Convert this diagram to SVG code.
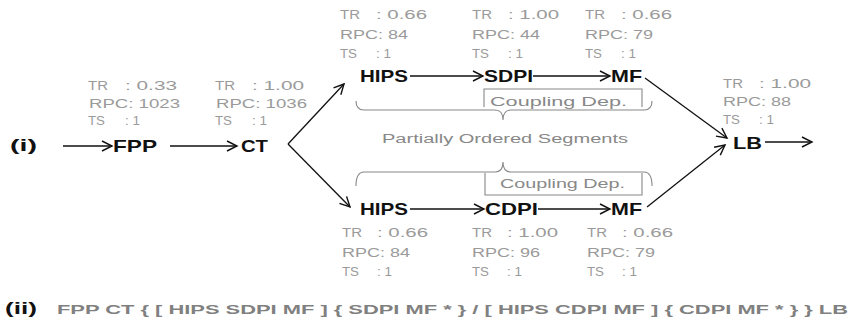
<svg xmlns="http://www.w3.org/2000/svg" width="850" height="327" viewBox="0 0 850 327">
<style>
.n{font-family:"Liberation Sans",Arial,sans-serif;font-weight:bold;font-size:17px;fill:#111}
.m{font-family:"Liberation Sans",Arial,sans-serif;font-size:12.5px;fill:#9a9a9a}
.g{font-family:"Liberation Sans",Arial,sans-serif;font-size:12px;fill:#888}
.b{font-family:"Liberation Sans",Arial,sans-serif;font-weight:bold;font-size:13px;fill:#808080}
.c{fill:none;stroke:#111;stroke-width:1.3}
.k{fill:none;stroke:#888;stroke-width:1.1}
</style>
<defs>
<marker id="a" markerUnits="userSpaceOnUse" markerWidth="14" markerHeight="14" refX="11" refY="6" orient="auto">
<path d="M1,1 L11,6 L1,11" fill="none" stroke="#111" stroke-width="1.4"/>
</marker>
</defs>
<rect width="850" height="327" fill="#fff"/>

<g id="connectors">
<line class="c" x1="63" y1="146" x2="112" y2="146" marker-end="url(#a)"/>
<line class="c" x1="170" y1="146" x2="237" y2="146" marker-end="url(#a)"/>
<line class="c" x1="288" y1="144" x2="344" y2="84" marker-end="url(#a)"/>
<line class="c" x1="288" y1="144" x2="350" y2="207" marker-end="url(#a)"/>
<line class="c" x1="410" y1="76" x2="483" y2="76" marker-end="url(#a)"/>
<line class="c" x1="533" y1="76" x2="610" y2="76" marker-end="url(#a)"/>
<line class="c" x1="645" y1="78" x2="727" y2="138" marker-end="url(#a)"/>
<line class="c" x1="410" y1="209" x2="484" y2="209" marker-end="url(#a)"/>
<line class="c" x1="538" y1="209" x2="610" y2="209" marker-end="url(#a)"/>
<line class="c" x1="647" y1="207" x2="725" y2="145" marker-end="url(#a)"/>
<line class="c" x1="765" y1="142" x2="812" y2="142" marker-end="url(#a)"/>
</g>

<g id="label-i"><text class="n" x="10" y="151" textLength="27" lengthAdjust="spacingAndGlyphs">(i)</text></g>

<g id="FPP">
<text class="n" x="113" y="152" textLength="44" lengthAdjust="spacingAndGlyphs">FPP</text>
<text class="m" x="88" y="90" textLength="20" lengthAdjust="spacingAndGlyphs">TR</text>
<text class="m" x="125" y="90" textLength="52" lengthAdjust="spacingAndGlyphs">: 0.33</text>
<text class="m" x="89" y="108" textLength="91" lengthAdjust="spacingAndGlyphs">RPC: 1023</text>
<text class="m" x="88" y="125" textLength="17" lengthAdjust="spacingAndGlyphs">TS</text>
<text class="m" x="125" y="125" textLength="15" lengthAdjust="spacingAndGlyphs">: 1</text>
</g>

<g id="CT">
<text class="n" x="241" y="152" textLength="27" lengthAdjust="spacingAndGlyphs">CT</text>
<text class="m" x="215" y="90" textLength="20" lengthAdjust="spacingAndGlyphs">TR</text>
<text class="m" x="252" y="90" textLength="52" lengthAdjust="spacingAndGlyphs">: 1.00</text>
<text class="m" x="216" y="108" textLength="91" lengthAdjust="spacingAndGlyphs">RPC: 1036</text>
<text class="m" x="215" y="125" textLength="17" lengthAdjust="spacingAndGlyphs">TS</text>
<text class="m" x="252" y="125" textLength="15" lengthAdjust="spacingAndGlyphs">: 1</text>
</g>

<g id="HIPS-upper">
<text class="n" x="360" y="82" textLength="48" lengthAdjust="spacingAndGlyphs">HIPS</text>
<text class="m" x="340" y="19" textLength="20" lengthAdjust="spacingAndGlyphs">TR</text>
<text class="m" x="376" y="19" textLength="51" lengthAdjust="spacingAndGlyphs">: 0.66</text>
<text class="m" x="340" y="39" textLength="68" lengthAdjust="spacingAndGlyphs">RPC: 84</text>
<text class="m" x="340" y="58" textLength="17" lengthAdjust="spacingAndGlyphs">TS</text>
<text class="m" x="376" y="58" textLength="15" lengthAdjust="spacingAndGlyphs">: 1</text>
</g>

<g id="SDPI">
<text class="n" x="484" y="82" textLength="49" lengthAdjust="spacingAndGlyphs">SDPI</text>
<text class="m" x="472" y="19" textLength="20" lengthAdjust="spacingAndGlyphs">TR</text>
<text class="m" x="508" y="19" textLength="51" lengthAdjust="spacingAndGlyphs">: 1.00</text>
<text class="m" x="472" y="39" textLength="68" lengthAdjust="spacingAndGlyphs">RPC: 44</text>
<text class="m" x="472" y="58" textLength="17" lengthAdjust="spacingAndGlyphs">TS</text>
<text class="m" x="508" y="58" textLength="15" lengthAdjust="spacingAndGlyphs">: 1</text>
</g>

<g id="MF-upper">
<text class="n" x="611" y="82" textLength="31" lengthAdjust="spacingAndGlyphs">MF</text>
<text class="m" x="585" y="19" textLength="20" lengthAdjust="spacingAndGlyphs">TR</text>
<text class="m" x="621" y="19" textLength="51" lengthAdjust="spacingAndGlyphs">: 0.66</text>
<text class="m" x="585" y="39" textLength="68" lengthAdjust="spacingAndGlyphs">RPC: 79</text>
<text class="m" x="585" y="58" textLength="17" lengthAdjust="spacingAndGlyphs">TS</text>
<text class="m" x="621" y="58" textLength="15" lengthAdjust="spacingAndGlyphs">: 1</text>
</g>

<g id="coupling-upper">
<path class="k" d="M484,107 V89 H642 V107"/>
<text class="g" x="490" y="106" textLength="137" lengthAdjust="spacingAndGlyphs">Coupling Dep.</text>
</g>

<g id="segments">
<path class="k" d="M356,101 Q356,110 364,110 H495 Q503,110 503,120 Q503,110 511,110 H644 Q652,110 652,101"/>
<text class="g" x="382" y="143" textLength="246" lengthAdjust="spacingAndGlyphs">Partially Ordered Segments</text>
<path class="k" d="M356,186 Q356,172 364,172 H495 Q503,172 503,162 Q503,172 511,172 H644 Q652,172 652,186"/>
</g>

<g id="coupling-lower">
<path class="k" d="M485,173 V195 H642 V173"/>
<text class="g" x="500" y="188" textLength="125" lengthAdjust="spacingAndGlyphs">Coupling Dep.</text>
</g>

<g id="HIPS-lower">
<text class="n" x="360" y="215" textLength="48" lengthAdjust="spacingAndGlyphs">HIPS</text>
<text class="m" x="342" y="237" textLength="20" lengthAdjust="spacingAndGlyphs">TR</text>
<text class="m" x="377" y="237" textLength="51" lengthAdjust="spacingAndGlyphs">: 0.66</text>
<text class="m" x="342" y="257" textLength="68" lengthAdjust="spacingAndGlyphs">RPC: 84</text>
<text class="m" x="342" y="276" textLength="17" lengthAdjust="spacingAndGlyphs">TS</text>
<text class="m" x="377" y="276" textLength="15" lengthAdjust="spacingAndGlyphs">: 1</text>
</g>

<g id="CDPI">
<text class="n" x="485" y="215" textLength="53" lengthAdjust="spacingAndGlyphs">CDPI</text>
<text class="m" x="472" y="237" textLength="20" lengthAdjust="spacingAndGlyphs">TR</text>
<text class="m" x="507" y="237" textLength="51" lengthAdjust="spacingAndGlyphs">: 1.00</text>
<text class="m" x="472" y="257" textLength="68" lengthAdjust="spacingAndGlyphs">RPC: 96</text>
<text class="m" x="472" y="276" textLength="17" lengthAdjust="spacingAndGlyphs">TS</text>
<text class="m" x="507" y="276" textLength="15" lengthAdjust="spacingAndGlyphs">: 1</text>
</g>

<g id="MF-lower">
<text class="n" x="611" y="215" textLength="31" lengthAdjust="spacingAndGlyphs">MF</text>
<text class="m" x="587" y="237" textLength="20" lengthAdjust="spacingAndGlyphs">TR</text>
<text class="m" x="622" y="237" textLength="51" lengthAdjust="spacingAndGlyphs">: 0.66</text>
<text class="m" x="587" y="257" textLength="68" lengthAdjust="spacingAndGlyphs">RPC: 79</text>
<text class="m" x="587" y="276" textLength="17" lengthAdjust="spacingAndGlyphs">TS</text>
<text class="m" x="622" y="276" textLength="15" lengthAdjust="spacingAndGlyphs">: 1</text>
</g>

<g id="LB">
<text class="n" x="733" y="149" textLength="29" lengthAdjust="spacingAndGlyphs">LB</text>
<text class="m" x="723" y="88" textLength="20" lengthAdjust="spacingAndGlyphs">TR</text>
<text class="m" x="759" y="88" textLength="52" lengthAdjust="spacingAndGlyphs">: 1.00</text>
<text class="m" x="723" y="106" textLength="68" lengthAdjust="spacingAndGlyphs">RPC: 88</text>
<text class="m" x="723" y="124" textLength="17" lengthAdjust="spacingAndGlyphs">TS</text>
<text class="m" x="759" y="124" textLength="15" lengthAdjust="spacingAndGlyphs">: 1</text>
</g>

<g id="expression">
<text class="n" x="5" y="314" textLength="32" lengthAdjust="spacingAndGlyphs">(ii)</text>
<text class="b" x="57" y="314" textLength="791" lengthAdjust="spacingAndGlyphs">FPP CT { [ HIPS SDPI MF ] { SDPI MF * } / [ HIPS CDPI MF ] { CDPI MF * } } LB</text>
</g>
</svg>
